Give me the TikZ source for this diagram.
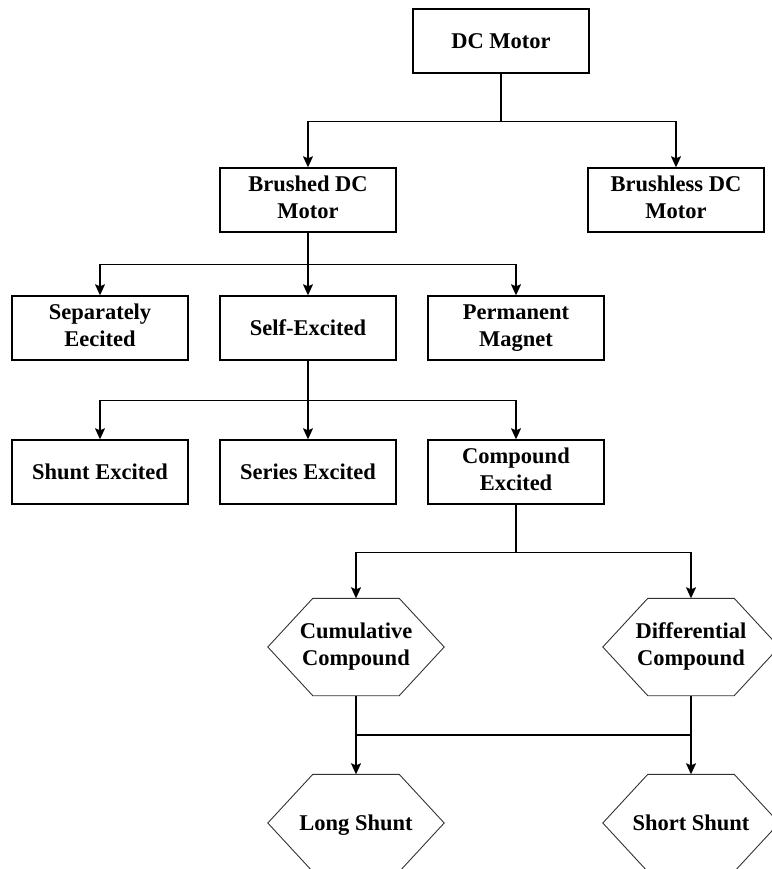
\documentclass[tikz,border=0pt]{standalone}
\usepackage{fontspec}
\setmainfont{Liberation Serif}
\usepackage{tikz}
\usetikzlibrary{arrows.meta}

\begin{document}
\begin{tikzpicture}[x=1pt, y=1pt,
  label font/.style={font=\bfseries\fontsize{22.5}{27}\selectfont, execute at begin node=\rule{0pt}{20pt}, execute at end node=\rule[-5pt]{0pt}{5pt}},
  box/.style={draw, line width=1.4pt, minimum width=176pt, minimum height=64pt, inner sep=0pt, align=center, label font},
  hexa/.style={minimum width=176pt, minimum height=97pt, inner sep=0pt, align=center, label font},
  hexline/.style={line width=0.9pt, draw=black!80},
  arr/.style={line width=1.4pt, -{Stealth[length=11pt, width=10pt, inset=2pt]}}]
\useasboundingbox (0,0) rectangle (771,-869);

% top levels
\node[box] (dc) at (501,-41) {DC Motor};
\node[box] (brushed) at (308,-200) {Brushed DC\\Motor};
\node[box] (brushless) at (676,-200) {Brushless DC\\Motor};

% brushed types
\node[box] (sep) at (100,-328) {Separately\\Eecited};
\node[box] (self) at (308,-328) {Self-Excited};
\node[box] (perm) at (516,-328) {Permanent\\Magnet};

% self excited types
\node[box] (shunt) at (100,-472) {Shunt Excited};
\node[box] (series) at (308,-472) {Series Excited};
\node[box] (comp) at (516,-472) {Compound\\Excited};

% compound types
\node[hexa] (cum) at (356,-647) {Cumulative\\Compound};
\node[hexa] (diff) at (691,-647) {Differential\\Compound};
\node[hexa] (long) at (356,-823) {Long Shunt};
\node[hexa] (short) at (691,-823) {Short Shunt};
\foreach \n in {cum,diff,long,short}
  \draw[hexline] (\n.west) -- ([xshift=45pt]\n.north west) -- ([xshift=-45pt]\n.north east)
    -- (\n.east) -- ([xshift=-45pt]\n.south east) -- ([xshift=45pt]\n.south west) -- cycle;

% connectors
\draw[arr] (dc.south) -- ++(0,-48) -| (brushed.north);
\draw[arr] (dc.south) -- ++(0,-48) -| (brushless.north);

\draw[arr] (brushed.south) -- ++(0,-32) -| (sep.north);
\draw[arr] (brushed.south) -- (self.north);
\draw[arr] (brushed.south) -- ++(0,-32) -| (perm.north);

\draw[arr] (self.south) -- ++(0,-40) -| (shunt.north);
\draw[arr] (self.south) -- (series.north);
\draw[arr] (self.south) -- ++(0,-40) -| (comp.north);

\draw[arr] (comp.south) -- ++(0,-48) -| (cum.north);
\draw[arr] (comp.south) -- ++(0,-48) -| (diff.north);

\draw[arr] (cum.south) -- (long.north);
\draw[arr] (diff.south) -- (short.north);
\coordinate (jcum) at (356,-735);
\coordinate (jdiff) at (691,-735);
\draw[line width=1.4pt] (jcum) -- (jdiff);
\end{tikzpicture}
\end{document}
